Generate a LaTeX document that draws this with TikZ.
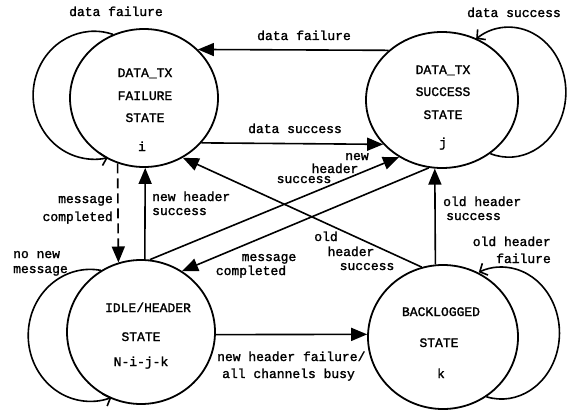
\documentclass[tikz,border=0pt]{standalone}
\usepackage{fontspec}
\newfontfamily\labfont[FakeBold=1.6]{Liberation Mono}
\usetikzlibrary{shapes.geometric,arrows.meta}
\begin{document}
\begin{tikzpicture}[x=1pt,y=1pt,
  state/.style={ellipse, draw, line width=1.8pt, inner sep=0pt, fill=white},
  lbl/.style={font=\labfont\fontsize{13}{15}\selectfont, inner sep=0pt, anchor=base},
  arr/.style={line width=1.6pt, -{Triangle[length=16pt,width=13pt]}},
  loopy/.style={line width=1.6pt, -{Straight Barb[length=6pt,width=13pt]}},
  dashy/.style={dash pattern=on 10pt off 5pt}]
\useasboundingbox (0,0) rectangle (577,-412);
% states
\node[state, minimum width=148pt, minimum height=138pt] (i) at (144,-98) {};
\node[state, minimum width=152pt, minimum height=136pt] (j) at (442,-100) {};
\node[state, minimum width=148pt, minimum height=144pt] (n) at (141,-332) {};
\node[state, minimum width=150pt, minimum height=144pt] (k) at (443,-337) {};
% state texts
\node[lbl] (i1) at (145,-77) {DATA\_TX};
\node[lbl] (i2) at (145,-100) {FAILURE};
\node[lbl] (i3) at (145,-122) {STATE};
\node[lbl] (i4) at (142,-151) {i};
\node[lbl] (j1) at (443,-74) {DATA\_TX};
\node[lbl] (j2) at (443,-96) {SUCCESS};
\node[lbl] (j3) at (443,-119) {STATE};
\node[lbl] (j4) at (443,-147) {j};
\node[lbl] (n1) at (148,-312) {IDLE/HEADER};
\node[lbl] (n2) at (141,-341) {STATE};
\node[lbl] (n3) at (141,-366) {N-i-j-k};
\node[lbl] (k1) at (441,-316) {BACKLOGGED};
\node[lbl] (k2) at (439,-347) {STATE};
\node[lbl] (k3) at (441,-378) {k};
% self loops
\draw[loopy] (i.116) arc[start angle=72, end angle=283, x radius=61, y radius=64];
\draw[loopy] (j.-48.5) arc[start angle=-109, end angle=125, x radius=57, y radius=65];
\draw[loopy] (n.123.4) arc[start angle=80, end angle=290, x radius=62, y radius=66];
\draw[loopy] (k.-54.9) arc[start angle=-105, end angle=113, x radius=58, y radius=66];
% transitions
\draw[arr] (j.137) -- (i.42);
\draw[arr] (i.-38) -- (j.-143);
\draw[arr, dashy] (i.-112) -- (n.108.6);
\draw[arr] (n.87) -- (i.-89);
\draw[arr] (n.83) -- (j.-127.4);
\draw[arr] (j.-101.6) -- (n.56);
\draw[arr] (k.107) -- (i.-57.4);
\draw[arr] (k.96.3) -- (j.-96);
\draw[arr] (n.-2.3) -- (k.178.5);
% labels
\node[lbl] (l1) at (116,-16) {data failure};
\node[lbl] (l2) at (514,-17) {data success};
\node[lbl] (l3) at (304,-40) {data failure};
\node[lbl] (l4) at (295,-133) {data success};
\node[lbl, anchor=base east] (l5) at (113,-203) {message};
\node[lbl, anchor=base east] (l6) at (113,-221) {completed};
\node[lbl, anchor=base west] (l7) at (152,-201) {new header};
\node[lbl, anchor=base west] (l8) at (152,-215) {success};
\node[lbl] (l9) at (357,-160) {new};
\node[lbl] (l10) at (335,-173) {header};
\node[lbl] (l11) at (304,-183) {success};
\node[lbl] (l12) at (269,-261) {message};
\node[lbl] (l13) at (251,-275) {completed};
\node[lbl] (l14) at (326,-241) {old};
\node[lbl] (l15) at (351,-256) {header};
\node[lbl] (l16) at (367,-270) {success};
\node[lbl, anchor=base west] (l17) at (443,-206) {old header};
\node[lbl, anchor=base west] (l18) at (446,-220) {success};
\node[lbl, anchor=base east] (l19) at (551,-246) {old header};
\node[lbl, anchor=base east] (l20) at (551,-263) {failure};
\node[lbl, anchor=base west] (l21) at (13,-258) {no new};
\node[lbl, anchor=base west] (l22) at (13,-273) {message};
\node[lbl, anchor=base west] (l23) at (217,-361) {new header failure/};
\node[lbl, anchor=base west] (l24) at (222,-378) {all channels busy};
\end{tikzpicture}
\end{document}
